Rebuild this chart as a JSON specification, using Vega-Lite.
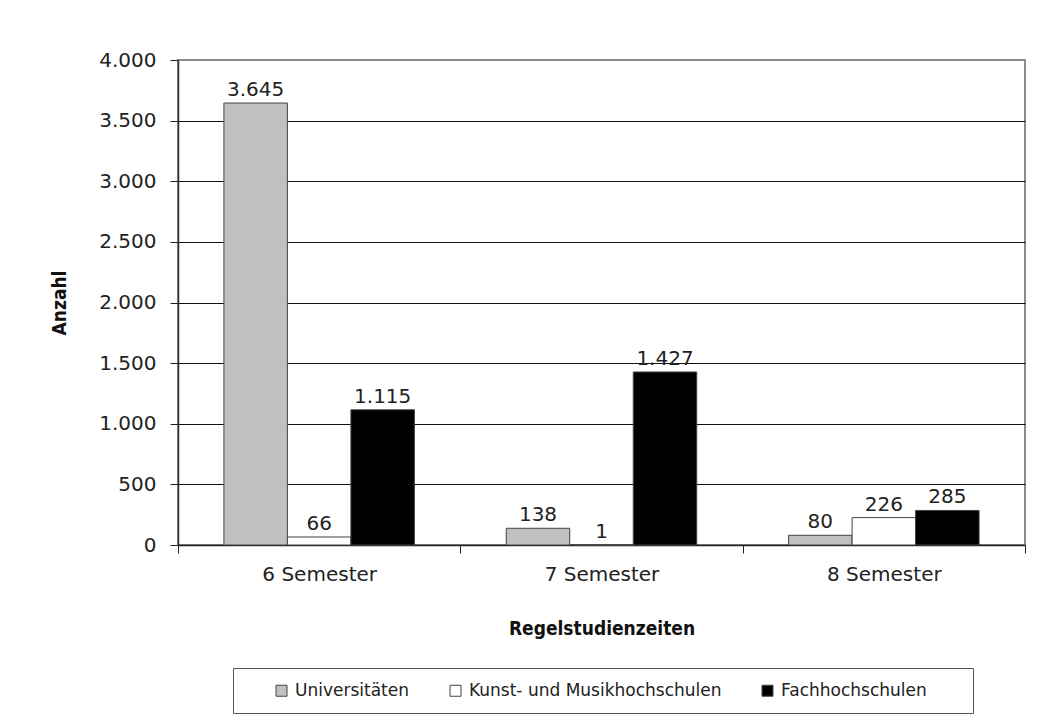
{
  "$schema": "https://vega.github.io/schema/vega-lite/v6.json",
  "autosize": {"type": "none"},
  "padding": {"left": 178, "top": 60, "right": 28, "bottom": 177},
  "width": 847,
  "height": 485,
  "background": "white",
  "config": {
    "locale": {"number": {"decimal": ",", "thousands": ".", "grouping": [3], "currency": ["", " €"]}},
    "view": {"stroke": "#8a8a8a", "strokeWidth": 2},
    "font": "DejaVu Sans"
  },
  "data": {
    "values": [
      {"zeit": "6 Semester", "typ": "Universitäten", "anzahl": 3645},
      {"zeit": "6 Semester", "typ": "Kunst- und Musikhochschulen", "anzahl": 66},
      {"zeit": "6 Semester", "typ": "Fachhochschulen", "anzahl": 1115},
      {"zeit": "7 Semester", "typ": "Universitäten", "anzahl": 138},
      {"zeit": "7 Semester", "typ": "Kunst- und Musikhochschulen", "anzahl": 1},
      {"zeit": "7 Semester", "typ": "Fachhochschulen", "anzahl": 1427},
      {"zeit": "8 Semester", "typ": "Universitäten", "anzahl": 80},
      {"zeit": "8 Semester", "typ": "Kunst- und Musikhochschulen", "anzahl": 226},
      {"zeit": "8 Semester", "typ": "Fachhochschulen", "anzahl": 285}
    ]
  },
  "encoding": {
    "x": {
      "field": "zeit", "type": "nominal",
      "scale": {"paddingInner": 0, "paddingOuter": 0},
      "axis": {
        "title": "Regelstudienzeiten",
        "titleFont": "DejaVu Sans Condensed", "titleFontSize": 19, "titleFontWeight": "bold", "titleColor": "#111",
        "titlePadding": 35,
        "labelAngle": 0, "labelFontSize": 20, "labelColor": "#222", "labelPadding": 11,
        "tickBand": "extent", "tickSize": 8, "tickColor": "#222", "domainColor": "#222", "domainWidth": 1.5
      }
    },
    "xOffset": {
      "field": "typ", "type": "nominal",
      "sort": ["Universitäten", "Kunst- und Musikhochschulen", "Fachhochschulen"],
      "scale": {"paddingInner": 0, "paddingOuter": 0.723}
    },
    "y": {
      "field": "anzahl", "type": "quantitative",
      "scale": {"domain": [0, 4000], "nice": false},
      "axis": {
        "title": "Anzahl",
        "titleFont": "DejaVu Sans Condensed", "titleFontSize": 19, "titleFontWeight": "bold", "titleColor": "#111",
        "titlePadding": 29,
        "values": [0, 500, 1000, 1500, 2000, 2500, 3000, 3500, 4000],
        "format": ",d",
        "labelFontSize": 20, "labelColor": "#222", "labelPadding": 14,
        "tickSize": 8, "tickColor": "#222", "domainColor": "#333", "domainWidth": 1.5,
        "grid": true,
        "gridColor": {"condition": {"test": "datum.value === 4000", "value": "#8a8a8a"}, "value": "#111"},
        "gridWidth": 1.2
      }
    }
  },
  "layer": [
    {
      "mark": {"type": "bar", "stroke": "#444", "strokeWidth": 1},
      "encoding": {
        "fill": {
          "field": "typ", "type": "nominal",
          "sort": ["Universitäten", "Kunst- und Musikhochschulen", "Fachhochschulen"],
          "scale": {"domain": ["Universitäten", "Kunst- und Musikhochschulen", "Fachhochschulen"], "range": ["#c0c0c0", "#ffffff", "#000000"]},
          "legend": {
            "orient": "none", "legendX": 55, "legendY": 608, "direction": "horizontal",
            "title": "\u00a0", "titleOrient": "right", "titlePadding": 32, "titleFontSize": 17,
            "symbolType": "square", "symbolSize": 121, "symbolStrokeColor": "#444", "symbolStrokeWidth": 1,
            "labelFontSize": 17, "labelColor": "#222", "labelOffset": 5, "labelLimit": 400,
            "columnPadding": 11, "symbolOffset": 26,
            "strokeColor": "#555", "padding": 14
          }
        }
      }
    },
    {
      "mark": {"type": "text", "baseline": "bottom", "dy": -3, "fontSize": 20, "color": "#222"},
      "encoding": {
        "text": {"field": "anzahl", "type": "quantitative", "format": ",d"}
      }
    }
  ]
}
